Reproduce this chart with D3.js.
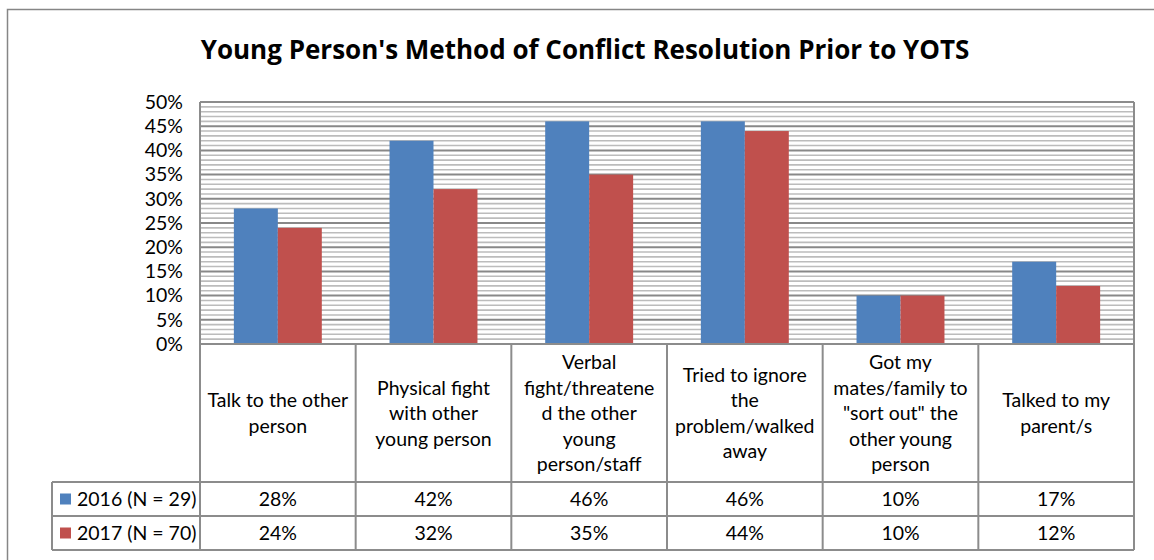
<!DOCTYPE html>
<html>
<head>
<meta charset="utf-8">
<script src="https://cdn.jsdelivr.net/npm/d3@7"></script>
<style>
  body { margin: 0; background: #fff; }
  svg { display: block; font-family: Lato, "Open Sans", sans-serif; }
</style>
</head>
<body>
<script>
// Data
var categories = [
	["Talk to the other", "person"],
	["Physical fight", "with other", "young person"],
	["Verbal", "fight/threatene", "d the other", "young", "person/staff"],
	["Tried to ignore", "the", "problem/walked", "away"],
	["Got my", "mates/family to", "\"sort out\" the", "other young", "person"],
	["Talked to my", "parent/s"]
];
var seriesNames = ["2016 (N = 29)", "2017 (N = 70)"];
var values2016 = [28, 42, 46, 46, 10, 17];
var values2017 = [24, 32, 35, 44, 10, 12];
var colors = ["#4F81BD", "#C0504D"];
var yTicks = [0, 5, 10, 15, 20, 25, 30, 35, 40, 45, 50];

var seriesValues = [values2016, values2017];
var catIdx = d3.range(categories.length);

// Chart config
var width = 1154, height = 560;
var plot = {left: 200, right: 1134, top: 102, bottom: 344};
var tableRows = [344, 482, 516, 550];
var legendLeft = 52;
var fontSize = "19.5px";

var svg = d3.select("body").append("svg")
	.attr("width", width)
	.attr("height", height);

// outer chart border
svg.append("rect")
	.attr("x", 7.5).attr("y", 9.5)
	.attr("width", 1160).attr("height", 600)
	.attr("fill", "none").attr("stroke", "#868686").attr("stroke-width", 1.5);

// title
svg.append("text")
	.attr("x", 585).attr("y", 59)
	.attr("text-anchor", "middle")
	.attr("font-family", "'Open Sans', sans-serif")
	.attr("font-size", "26px").attr("font-weight", "bold")
	.text("Young Person's Method of Conflict Resolution Prior to YOTS");

// scales
var xScale = d3.scaleBand().domain(catIdx).range([plot.left, plot.right]);
var xInner = d3.scaleBand().domain(d3.range(seriesNames.length))
	.range([0, xScale.bandwidth()]).paddingOuter(0.77);
var yScale = d3.scaleLinear().domain([0, 50]).range([plot.bottom, plot.top]);

// minor gridlines every 1%
svg.append("g").selectAll("line")
	.data(d3.range(0, 51).filter(function(d) { return d % 5 !== 0; }))
	.join("line")
	.attr("x1", plot.left).attr("x2", plot.right)
	.attr("y1", function(d) { return yScale(d); })
	.attr("y2", function(d) { return yScale(d); })
	.attr("stroke", "#bcbcbc").attr("stroke-width", 1.6);

// major gridlines
svg.append("g").selectAll("line")
	.data(yTicks)
	.join("line")
	.attr("x1", plot.left).attr("x2", plot.right)
	.attr("y1", function(d) { return yScale(d); })
	.attr("y2", function(d) { return yScale(d); })
	.attr("stroke", "#888").attr("stroke-width", 2);

// y axis
var yAxis = d3.axisLeft(yScale).tickValues(yTicks)
	.tickFormat(function(d) { return d + "%"; })
	.tickSize(0).tickPadding(17);
var yAxisEl = svg.append("g")
	.attr("transform", "translate(" + plot.left + ",0)")
	.call(yAxis);
yAxisEl.select(".domain").remove();
yAxisEl.selectAll("text")
	.attr("font-size", fontSize).attr("fill", "#000")
	.attr("font-family", "Lato, sans-serif");

// bars
seriesValues.forEach(function(vals, s) {
	svg.append("g").selectAll("rect")
		.data(vals)
		.join("rect")
		.attr("x", function(d, i) { return xScale(i) + xInner(s); })
		.attr("width", xInner.bandwidth())
		.attr("y", function(d) { return yScale(d); })
		.attr("height", function(d) { return yScale(0) - yScale(d); })
		.attr("fill", colors[s]);
});

// data table
var lineColor = "#8c8c8c";
var grid = svg.append("g").attr("stroke", lineColor).attr("stroke-width", 2);
// horizontal lines
grid.append("line").attr("x1", plot.left).attr("x2", plot.right)
	.attr("y1", plot.top).attr("y2", plot.top);
grid.append("line").attr("x1", plot.left).attr("x2", plot.right)
	.attr("y1", tableRows[0]).attr("y2", tableRows[0]);
[tableRows[1], tableRows[2], tableRows[3]].forEach(function(y) {
	grid.append("line").attr("x1", legendLeft).attr("x2", plot.right)
		.attr("y1", y).attr("y2", y);
});
// vertical lines
grid.append("line").attr("x1", plot.left).attr("x2", plot.left)
	.attr("y1", plot.top).attr("y2", tableRows[3]);
grid.append("line").attr("x1", plot.right).attr("x2", plot.right)
	.attr("y1", plot.top).attr("y2", tableRows[3]);
grid.append("line").attr("x1", legendLeft).attr("x2", legendLeft)
	.attr("y1", tableRows[1]).attr("y2", tableRows[3]);
catIdx.slice(1).forEach(function(i) {
	grid.append("line").attr("x1", xScale(i)).attr("x2", xScale(i))
		.attr("y1", tableRows[0]).attr("y2", tableRows[3]);
});

// category labels
var lineH = 25.5;
var catMid = (tableRows[0] + tableRows[1]) / 2;
svg.append("g").selectAll("text")
	.data(categories)
	.join("text")
	.attr("text-anchor", "middle")
	.attr("font-size", fontSize)
	.each(function(lines, i) {
		var t = d3.select(this);
		var y0 = catMid - (lines.length - 1) * lineH / 2 + 7;
		lines.forEach(function(l, k) {
			t.append("tspan")
				.attr("x", xScale(i) + xScale.bandwidth() / 2)
				.attr("y", y0 + k * lineH)
				.text(l);
		});
	});

// value rows
seriesValues.forEach(function(vals, s) {
	var yMid = (tableRows[s + 1] + tableRows[s + 2]) / 2;
	svg.append("g").selectAll("text")
		.data(vals)
		.join("text")
		.attr("x", function(d, i) { return xScale(i) + xScale.bandwidth() / 2; })
		.attr("y", yMid + 7)
		.attr("text-anchor", "middle")
		.attr("font-size", fontSize)
		.text(function(d) { return d + "%"; });
	// legend key
	svg.append("rect")
		.attr("x", 60).attr("y", yMid - 5.5)
		.attr("width", 11).attr("height", 11)
		.attr("fill", colors[s]);
	svg.append("text")
		.attr("x", 77).attr("y", yMid + 7)
		.attr("font-size", fontSize)
		.text(seriesNames[s]);
});
</script>
</body>
</html>
